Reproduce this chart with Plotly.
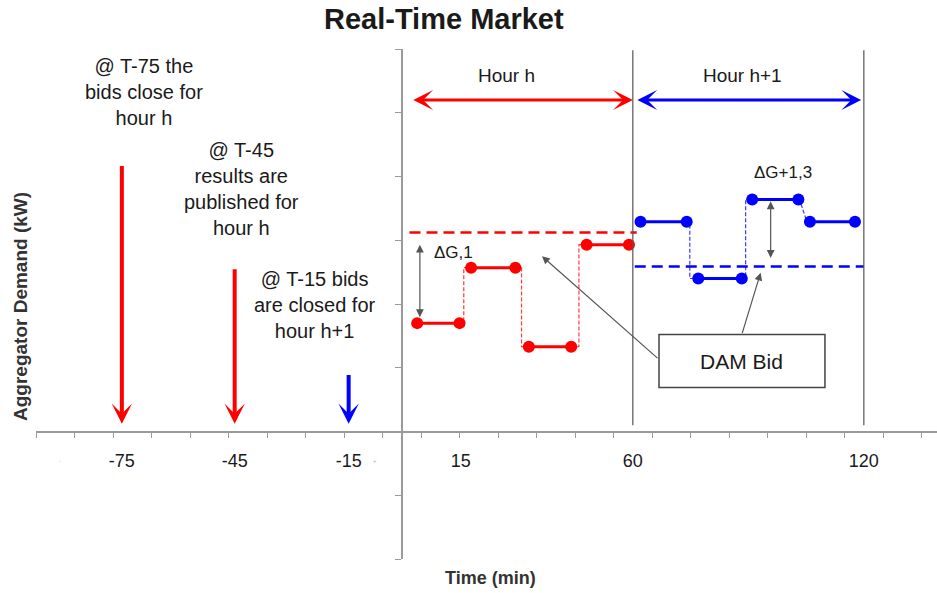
import plotly.graph_objects as go

# ---------------- data ----------------
tick_labels = ["-75", "-45", "-15", "15", "60", "120"]
tick_pos = [-72.7, -43.4, -13.8, 15.3, 60, 120]
minor_ticks = list(range(-95, 140, 10))
y_ticks = list(range(-2, 7))

# red (hour h) real-time demand steps
red_start = [4, 18, 33, 48]
red_end = [15, 29.5, 44, 59]
red_y = [1.70, 2.57, 1.33, 2.93]
red_step_a = [16.1, 31.1, 46.0]
red_step_b = [16.1, 31.1, 46.0]
red_bid = 3.12
red_bid_x = [2, 61]

# blue (hour h+1) real-time demand steps
blue_start = [62, 77, 91, 106]
blue_end = [74, 88.3, 103, 117.7]
blue_y = [3.29, 2.40, 3.64, 3.29]
blue_step_a = [74.8, 89.3, 103.3]
blue_step_b = [74.8, 89.3, 105.2]
blue_bid = 2.59
blue_bid_x = [60.5, 120]

# event arrows (deadlines)
event_x = tick_pos[:3]
event_top = [4.19, 2.57, 0.91]
event_color = ["#ff0000", "#ff0000", "#0000ff"]

hour_bounds = [60, 120]
hour_h = [2.6, 60]
hour_h1 = [60.8, 119.3]
hour_arrow_y = 5.2

XR = [-95, 139]
YR = [-2, 6]

RED = "#ff0000"
BLUE = "#0000ff"
AX = "#9a9a9a"
TXT = "#1a1a1a"
FONT = "Liberation Sans, Arial, sans-serif"
NARROW = "Liberation Sans Narrow, Liberation Sans, Arial, sans-serif"


def seg_xy(starts, ends, ys):
    xs, yy = [], []
    for s, e, y in zip(starts, ends, ys):
        xs += [s, e, None]
        yy += [y, y, None]
    return xs, yy


def conn_xy(starts, ends, ys, sa, sb):
    xs, yy = [], []
    for i in range(len(starts) - 1):
        xs += [ends[i], sa[i], sb[i], starts[i + 1], None]
        yy += [ys[i], ys[i], ys[i + 1], ys[i + 1], None]
    return xs, yy


fig = go.Figure()

for st, en, ys, sa, sb, col in [
    (red_start, red_end, red_y, red_step_a, red_step_b, "#ff3b3b"),
    (blue_start, blue_end, blue_y, blue_step_a, blue_step_b, "#3b3bff"),
]:
    cx, cy = conn_xy(st, en, ys, sa, sb)
    fig.add_trace(go.Scatter(x=cx, y=cy, mode="lines",
                             line=dict(color=col, width=1.2, dash="4px,2px"),
                             hoverinfo="skip", showlegend=False))

fig.add_trace(go.Scatter(x=red_bid_x, y=[red_bid, red_bid], mode="lines",
                         line=dict(color=RED, width=2.5, dash="11px,6px"),
                         hoverinfo="skip", showlegend=False))
fig.add_trace(go.Scatter(x=blue_bid_x, y=[blue_bid, blue_bid], mode="lines",
                         line=dict(color=BLUE, width=2.5, dash="11px,6px"),
                         hoverinfo="skip", showlegend=False))

for st, en, ys, col in [(red_start, red_end, red_y, RED),
                        (blue_start, blue_end, blue_y, BLUE)]:
    sx, sy = seg_xy(st, en, ys)
    fig.add_trace(go.Scatter(x=sx, y=sy, mode="lines+markers",
                             line=dict(color=col, width=3),
                             marker=dict(color=col, size=12),
                             hoverinfo="skip", showlegend=False))

fig.add_trace(go.Scatter(x=[-98.4, -88.8, -7.0], y=[-0.47, -0.47, -0.47],
                         mode="markers", cliponaxis=False,
                         marker=dict(size=[3, 2, 3], color=["#777", "#ccc", "#aaa"]),
                         hoverinfo="skip", showlegend=False))

fig.add_trace(go.Scatter(x=tick_pos, y=[None] * len(tick_pos), xaxis="x2",
                         mode="markers", hoverinfo="skip", showlegend=False))

shapes = []
for hb in hour_bounds:
    shapes.append(dict(type="line", xref="x", yref="y", x0=hb, x1=hb,
                       y0=0.1, y1=5.98, line=dict(color="#555", width=1.2)))
shapes.append(dict(type="rect", xref="x", yref="y", x0=66.8, x1=109.9,
                   y0=0.69, y1=1.52, line=dict(color="#444", width=1.5),
                   fillcolor="white", layer="above"))

ann = []


def arrow(x, y, ax, ay, color, width, head, size, both=False):
    ann.append(dict(x=x, y=y, ax=ax, ay=ay, xref="x", yref="y", axref="x",
                    ayref="y", text="", showarrow=True, arrowcolor=color,
                    arrowwidth=width, arrowhead=head, arrowsize=size,
                    startarrowhead=head, startarrowsize=size,
                    arrowside="end+start" if both else "end"))


for ex, et, ec in zip(event_x, event_top, event_color):
    arrow(ex, 0.12, ex, et, ec, 4, 3, 0.85)

arrow(hour_h[1], hour_arrow_y, hour_h[0], hour_arrow_y, RED, 3, 3, 1.1, both=True)
arrow(hour_h1[1], hour_arrow_y, hour_h1[0], hour_arrow_y, BLUE, 3, 3, 1.1, both=True)

arrow(4.7, 2.93, 4.7, 1.77, "#555", 1.2, 2, 1.3, both=True)
arrow(95.8, 3.61, 95.8, 2.70, "#555", 1.2, 2, 1.3, both=True)

arrow(36.4, 2.75, 66.8, 1.13, "#555", 1.2, 2, 1.3)
arrow(93.2, 2.49, 88.3, 1.52, "#555", 1.2, 2, 1.3)


def text(x, y, t, size=20, xref="x", yref="y", **kw):
    d = dict(x=x, y=y, xref=xref, yref=yref, text=t, showarrow=False,
             font=dict(family=FONT, size=size, color=TXT),
             xanchor="center", yanchor="middle")
    d.update(kw)
    ann.append(d)


text(-67, 5.33, "@ T-75 the<br>bids close for<br>hour h")
text(-41.6, 3.8, "@ T-45<br>results are<br>published for<br>hour h")
text(-22.6, 1.98, "@ T-15 bids<br>are closed for<br>hour h+1")
text(27.3, 5.58, "Hour h", size=19)
text(88.6, 5.58, "Hour h+1", size=19)
text(13.5, 2.81, "ΔG,1", size=17)
text(99.0, 4.06, "ΔG+1,3", size=17)
text(88.3, 1.1, "DAM Bid", size=21)

# titles (pixel placed, converted below)
for px, py, t, sz, ang in [(444, 19, "<b>Real-Time Market</b>", 29, 0),
                           (490, 578, "<b>Time (min)</b>", 18, 0),
                           (20, 307, "<b>Aggregator Demand (kW)</b>", 19, -90)]:
    ann.append(dict(x=px, y=593 - py, xref="paper", yref="paper", text=t,
                    textangle=ang, xanchor="center", yanchor="middle",
                    showarrow=False,
                    font=dict(family=NARROW, size=sz, color=TXT if sz > 20 else "#333")))

W, H = 937, 593
ML, MR, MT, MB = 36, 0, 49, 34
pw, ph = W - ML - MR, H - MT - MB
for a in ann:
    if a.get("xref") == "paper":
        a["x"] = (a["x"] - ML) / pw
        a["y"] = (a["y"] - MB) / ph

x0frac = (0 - XR[0]) / (XR[1] - XR[0])
y0frac = (0 - YR[0]) / (YR[1] - YR[0])

fig.update_layout(
    width=W, height=H, autosize=False,
    margin=dict(l=ML, r=MR, t=MT, b=MB, pad=0, autoexpand=False),
    paper_bgcolor="white", plot_bgcolor="white",
    showlegend=False,
    xaxis=dict(range=XR, anchor="free", position=y0frac, showgrid=False,
               zeroline=False, showline=True, linecolor=AX, linewidth=1.5,
               tickmode="array", tickvals=minor_ticks, ticks="outside",
               ticklen=6, tickwidth=1.3, tickcolor=AX, showticklabels=False,
               automargin=False, fixedrange=True),
    xaxis2=dict(range=XR, overlaying="x", anchor="free", position=y0frac,
                side="bottom", showgrid=False, zeroline=False, showline=False,
                tickmode="array", tickvals=tick_pos, ticktext=tick_labels,
                ticks="", ticklabelstandoff=16, automargin=False,
                tickfont=dict(family=FONT, size=18, color=TXT), fixedrange=True),
    yaxis=dict(range=YR, anchor="free", position=x0frac, showgrid=False,
               zeroline=False, showline=True, linecolor=AX, linewidth=1.5,
               tickmode="array", tickvals=y_ticks, ticks="outside", ticklen=6,
               tickwidth=1.3, tickcolor=AX, showticklabels=False,
               automargin=False, fixedrange=True),
    shapes=shapes,
    annotations=ann,
)

fig.write_html(
    "out.html",
    config={"displayModeBar": False},
    post_script="document.body.style.margin='0px';"
                "document.documentElement.style.overflow='hidden';",
)
